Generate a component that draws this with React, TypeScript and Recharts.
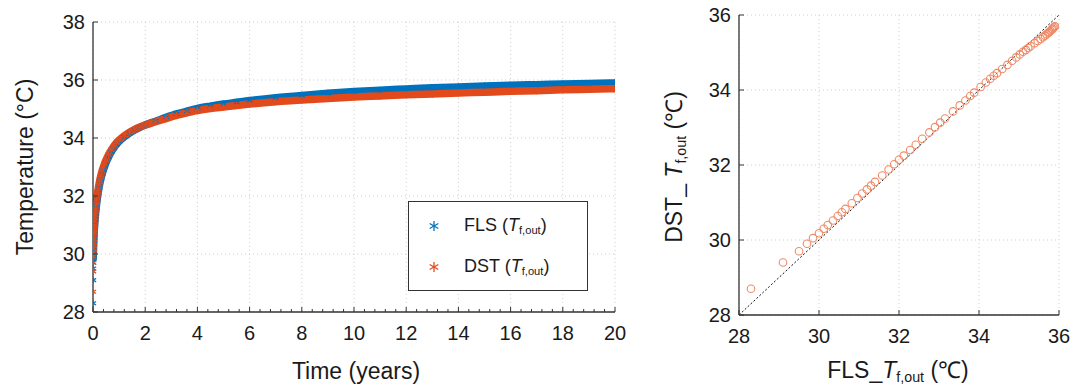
import React from "react";
import {
  ComposedChart,
  ScatterChart,
  Line,
  Scatter,
  XAxis,
  YAxis,
  CartesianGrid,
  ReferenceLine,
} from "recharts";

// time in years and outlet fluid temperature (°C) for the two models
const years = [
  0.001, 0.003, 0.005, 0.007, 0.01, 0.013, 0.017, 0.02, 0.025, 0.03, 0.035, 0.04, 0.05, 0.06,
  0.07, 0.08, 0.09, 0.1, 0.12, 0.14, 0.16, 0.18, 0.2, 0.23, 0.26, 0.3, 0.35, 0.4, 0.45, 0.5,
  0.6, 0.7, 0.8, 0.9, 1, 1.2, 1.4, 1.6, 1.8, 2, 2.4, 2.8, 3.2, 3.6, 4, 4.5, 5, 5.5, 6, 7, 8, 9,
  10, 11, 12, 13, 14, 15, 16, 17, 18, 19, 20,
];
const flsTemp = [
  28.3, 29.1, 29.5, 29.7, 29.85, 30.0, 30.12, 30.22, 30.35, 30.47, 30.57, 30.66, 30.82, 30.96,
  31.08, 31.2, 31.3, 31.4, 31.58, 31.74, 31.88, 32.0, 32.12, 32.28, 32.42, 32.58, 32.76, 32.9,
  33.03, 33.15, 33.35, 33.52, 33.66, 33.78, 33.88, 34.04, 34.17, 34.28, 34.37, 34.45, 34.58,
  34.71, 34.83, 34.93, 35.02, 35.1, 35.17, 35.23, 35.29, 35.39, 35.47, 35.54, 35.6, 35.65,
  35.69, 35.73, 35.76, 35.79, 35.82, 35.84, 35.86, 35.88, 35.9,
];
const dstTemp = [
  28.7, 29.4, 29.7, 29.9, 30.05, 30.18, 30.3, 30.4, 30.52, 30.64, 30.74, 30.83, 30.98, 31.12,
  31.24, 31.35, 31.45, 31.55, 31.72, 31.88, 32.02, 32.14, 32.25, 32.4, 32.54, 32.7, 32.87, 33.01,
  33.13, 33.24, 33.43, 33.59, 33.72, 33.84, 33.93, 34.08, 34.2, 34.3, 34.38, 34.45, 34.56,
  34.67, 34.78, 34.87, 34.95, 35.02, 35.07, 35.12, 35.17, 35.25, 35.31, 35.36, 35.41, 35.45,
  35.49, 35.52, 35.55, 35.58, 35.61, 35.63, 35.66, 35.68, 35.7,
];

const timeTicks = [0, 2, 4, 6, 8, 10, 12, 14, 16, 18, 20];
const timeMinorTicks = [
  0, 0.4, 0.8, 1.2, 1.6, 2, 2.4, 2.8, 3.2, 3.6, 4, 4.4, 4.8, 5.2, 5.6, 6, 6.4, 6.8, 7.2, 7.6, 8,
  8.4, 8.8, 9.2, 9.6, 10, 10.4, 10.8, 11.2, 11.6, 12, 12.4, 12.8, 13.2, 13.6, 14, 14.4, 14.8,
  15.2, 15.6, 16, 16.4, 16.8, 17.2, 17.6, 18, 18.4, 18.8, 19.2, 19.6, 20,
];
const tempTicks = [28, 30, 32, 34, 36, 38];
const compareTicks = [28, 30, 32, 34, 36];
const identityLine = [28, 36];

const BLUE = "#0072BD";
const ORANGE = "#E34A1B";
const CIRCLE = "#EF8A66";
const FRAME = "#333";
const INK = "#1a1a1a";

// series starts drawing a solid band once the points get dense
const BAND_START = 4;

const flsPoints = years.map((t, i) => ({ t, v: flsTemp[i] }));
const dstPoints = years.map((t, i) => ({ t, v: dstTemp[i] }));
const pairs = years.map((_, i) => ({ fls: flsTemp[i], dst: dstTemp[i] }));

function Asterisk({ cx, cy, color, s = 3.5 }: any) {
  const dx = s * 0.866
  const dy = s * 0.5
  return (
    <g stroke={color} strokeWidth={1.3}>
      <line x1={cx} y1={cy - s} x2={cx} y2={cy + s} />
      <line x1={cx - dx} y1={cy - dy} x2={cx + dx} y2={cy + dy} />
      <line x1={cx - dx} y1={cy + dy} x2={cx + dx} y2={cy - dy} />
    </g>
  )
}

// inward tick marks, labels only where asked
function makeTick(side: "bottom" | "top" | "left" | "right", majors: number[], labels: boolean) {
  return (props: any) => {
    const { x, y, payload } = props
    const value = payload.value
    const major = majors.includes(value)
    const len = major ? 5 : 3
    let line
    if (side === "bottom") line = <line x1={x} x2={x} y1={y} y2={y - len} />
    else if (side === "top") line = <line x1={x} x2={x} y1={y} y2={y + len} />
    else if (side === "left") line = <line x1={x} x2={x + len} y1={y} y2={y} />
    else line = <line x1={x} x2={x - len} y1={y} y2={y} />
    let label = null
    if (labels && major) {
      label =
        side === "bottom" ? (
          <text x={x} y={y + 28} textAnchor="middle" fontSize={20} fill={INK} stroke="none">
            {value}
          </text>
        ) : (
          <text x={x - 8} y={y + 7} textAnchor="end" fontSize={20} fill={INK} stroke="none">
            {value}
          </text>
        )
    }
    return (
      <g stroke={FRAME} strokeWidth={1}>
        {line}
        {label}
      </g>
    )
  }
}

const axisLine = { stroke: FRAME, strokeWidth: 1.3 }

function Sub({ children }: any) {
  return (
    <span>
      <i>T</i>
      <span style={{ fontSize: "0.62em", position: "relative", top: "0.3em" }}>{children}</span>
    </span>
  )
}

export default function App() {
  return (
    <div
      style={{
        position: "absolute",
        left: 0,
        top: 0,
        width: 1078,
        height: 384,
        background: "#fff",
        fontFamily: "'Liberation Sans', Arial, sans-serif",
        color: INK,
        overflow: "hidden",
      }}
    >
      <div style={{ position: "absolute", left: 0, top: 0 }}>
        <ComposedChart width={640} height={384} margin={{ top: 22, right: 25, bottom: 42, left: 0 }}>
          <CartesianGrid
            stroke="#cfcfcf"
            strokeDasharray="1 3"
            verticalValues={timeTicks}
            horizontalValues={tempTicks}
          />
          <XAxis
            dataKey="t"
            type="number"
            domain={[0, 20]}
            allowDataOverflow
            ticks={timeMinorTicks}
            interval={0}
            height={30}
            tickSize={0}
            tickMargin={0}
            tickLine={false}
            axisLine={axisLine}
            tick={makeTick("bottom", timeTicks, true)}
          />
          <XAxis
            xAxisId="top"
            orientation="top"
            type="number"
            domain={[0, 20]}
            allowDataOverflow
            ticks={timeMinorTicks}
            interval={0}
            height={0}
            tickSize={0}
            tickMargin={0}
            tickLine={false}
            axisLine={axisLine}
            tick={makeTick("top", timeTicks, false)}
          />
          <YAxis
            dataKey="v"
            type="number"
            domain={[28, 38]}
            allowDataOverflow
            ticks={tempTicks}
            interval={0}
            width={93}
            tickSize={0}
            tickMargin={0}
            tickLine={false}
            axisLine={axisLine}
            tick={makeTick("left", tempTicks, true)}
          />
          <YAxis
            yAxisId="right"
            orientation="right"
            type="number"
            domain={[28, 38]}
            allowDataOverflow
            ticks={tempTicks}
            interval={0}
            width={0}
            tickSize={0}
            tickMargin={0}
            tickLine={false}
            axisLine={axisLine}
            tick={makeTick("right", tempTicks, false)}
          />
          <Line
            data={flsPoints.slice(BAND_START)}
            dataKey="v"
            type="monotone"
            stroke={BLUE}
            strokeWidth={7.5}
            strokeLinecap="round"
            dot={false}
            activeDot={false}
            isAnimationActive={false}
          />
          <Scatter
            data={flsPoints}
            dataKey="v"
            shape={(p: any) => <Asterisk cx={p.cx} cy={p.cy} color={BLUE} />}
            isAnimationActive={false}
          />
          <Line
            data={dstPoints.slice(BAND_START)}
            dataKey="v"
            type="monotone"
            stroke={ORANGE}
            strokeWidth={7.5}
            strokeLinecap="round"
            dot={false}
            activeDot={false}
            isAnimationActive={false}
          />
          <Scatter
            data={dstPoints}
            dataKey="v"
            shape={(p: any) => <Asterisk cx={p.cx} cy={p.cy} color={ORANGE} />}
            isAnimationActive={false}
          />
        </ComposedChart>
      </div>

      <div style={{ position: "absolute", left: 645, top: 0 }}>
        <ScatterChart width={433} height={384} margin={{ top: 15, right: 19, bottom: 39, left: 0 }}>
          <CartesianGrid
            stroke="#cfcfcf"
            strokeDasharray="1 3"
            verticalValues={compareTicks}
            horizontalValues={compareTicks}
          />
          <XAxis
            dataKey="fls"
            type="number"
            domain={[28, 36]}
            allowDataOverflow
            ticks={compareTicks}
            interval={0}
            height={30}
            tickSize={0}
            tickMargin={0}
            tickLine={false}
            axisLine={axisLine}
            tick={makeTick("bottom", compareTicks, true)}
          />
          <XAxis
            xAxisId="top"
            orientation="top"
            type="number"
            domain={[28, 36]}
            allowDataOverflow
            ticks={compareTicks}
            interval={0}
            height={0}
            tickSize={0}
            tickMargin={0}
            tickLine={false}
            axisLine={axisLine}
            tick={makeTick("top", compareTicks, false)}
          />
          <YAxis
            dataKey="dst"
            type="number"
            domain={[28, 36]}
            allowDataOverflow
            ticks={compareTicks}
            interval={0}
            width={94}
            tickSize={0}
            tickMargin={0}
            tickLine={false}
            axisLine={axisLine}
            tick={makeTick("left", compareTicks, true)}
          />
          <YAxis
            yAxisId="right"
            orientation="right"
            type="number"
            domain={[28, 36]}
            allowDataOverflow
            ticks={compareTicks}
            interval={0}
            width={0}
            tickSize={0}
            tickMargin={0}
            tickLine={false}
            axisLine={axisLine}
            tick={makeTick("right", compareTicks, false)}
          />
          <Scatter
            data={pairs}
            dataKey="dst"
            shape={(p: any) => (
              <circle cx={p.cx} cy={p.cy} r={3.8} fill="none" stroke={CIRCLE} strokeWidth={1.1} />
            )}
            isAnimationActive={false}
          />
          <ReferenceLine
            segment={[
              { x: identityLine[0], y: identityLine[0] },
              { x: identityLine[1], y: identityLine[1] },
            ]}
            stroke="#111"
            strokeWidth={1}
            strokeDasharray="2 2"
          />
        </ScatterChart>
      </div>

      {/* axis titles */}
      <div
        style={{
          position: "absolute",
          left: 25,
          top: 167,
          transform: "translate(-50%, -50%) rotate(-90deg)",
          whiteSpace: "nowrap",
          fontSize: 23,
        }}
      >
        Temperature (°C)
      </div>
      <div
        style={{
          position: "absolute",
          left: 356,
          top: 371,
          transform: "translate(-50%, -50%)",
          whiteSpace: "nowrap",
          fontSize: 23,
        }}
      >
        Time (years)
      </div>
      <div
        style={{
          position: "absolute",
          left: 673,
          top: 167,
          transform: "translate(-50%, -50%) rotate(-90deg)",
          whiteSpace: "nowrap",
          fontSize: 23,
        }}
      >
        DST_ <Sub>f,out</Sub> (℃)
      </div>
      <div
        style={{
          position: "absolute",
          left: 898,
          top: 369,
          transform: "translate(-50%, -50%)",
          whiteSpace: "nowrap",
          fontSize: 23,
        }}
      >
        FLS_<Sub>f,out</Sub> (℃)
      </div>

      {/* legend */}
      <div
        style={{
          position: "absolute",
          left: 408,
          top: 201,
          width: 178,
          height: 88,
          border: `1.5px solid ${FRAME}`,
          background: "#fff",
          fontSize: 18,
        }}
      >
        {[
          { name: "FLS", color: BLUE, top: 13 },
          { name: "DST", color: ORANGE, top: 54 },
        ].map((item) => (
          <div
            key={item.name}
            style={{ position: "absolute", left: 18, top: item.top, display: "flex", alignItems: "center" }}
          >
            <svg width={14} height={14} style={{ marginRight: 23 }}>
              <Asterisk cx={7} cy={7} color={item.color} s={5} />
            </svg>
            <span style={{ whiteSpace: "nowrap" }}>
              {item.name} (<Sub>f,out</Sub>)
            </span>
          </div>
        ))}
      </div>
    </div>
  );
}
